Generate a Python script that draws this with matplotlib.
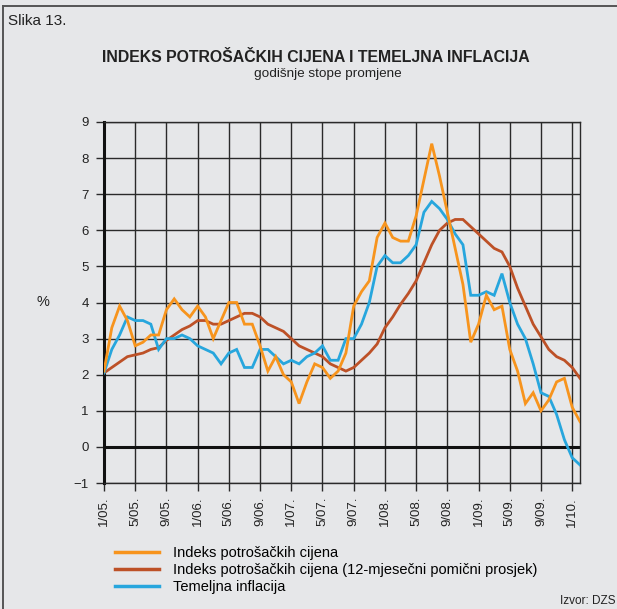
import matplotlib
matplotlib.use("Agg")
import matplotlib.pyplot as plt
from matplotlib.lines import Line2D
import numpy as np

plt.rcParams['font.family'] = ['Liberation Sans', 'DejaVu Sans']

# ---- data (monthly, 1/05 .. 2/10) ----
cpi = [2.1, 3.3, 3.9, 3.5, 2.8, 2.9, 3.1, 3.1, 3.8, 4.1, 3.8, 3.6,
       3.9, 3.6, 3.0, 3.5, 4.0, 4.0, 3.4, 3.4, 2.8, 2.1, 2.5, 2.0,
       1.8, 1.2, 1.8, 2.3, 2.2, 1.9, 2.1, 2.6, 3.9, 4.3, 4.6, 5.8,
       6.2, 5.8, 5.7, 5.7, 6.4, 7.4, 8.4, 7.5, 6.5, 5.5, 4.5, 2.9,
       3.4, 4.2, 3.8, 3.9, 2.7, 2.1, 1.2, 1.5, 1.0, 1.3, 1.8, 1.9,
       1.1, 0.7]
cpi_ma12 = [2.05, 2.2, 2.35, 2.5, 2.55, 2.6, 2.7, 2.75, 2.95, 3.1, 3.25, 3.35,
            3.5, 3.5, 3.4, 3.4, 3.5, 3.6, 3.7, 3.7, 3.6, 3.4, 3.3, 3.2,
            3.0, 2.8, 2.7, 2.6, 2.5, 2.3, 2.2, 2.1, 2.2, 2.4, 2.6, 2.85,
            3.3, 3.6, 3.95, 4.25, 4.6, 5.1, 5.6, 6.0, 6.2, 6.3, 6.3, 6.1,
            5.9, 5.7, 5.5, 5.4, 5.0, 4.4, 3.9, 3.4, 3.05, 2.7, 2.5, 2.4,
            2.2, 1.9]
core = [2.05, 2.7, 3.1, 3.6, 3.5, 3.5, 3.4, 2.7, 3.0, 3.0, 3.1, 3.0,
        2.8, 2.7, 2.6, 2.3, 2.6, 2.7, 2.2, 2.2, 2.7, 2.7, 2.5, 2.3,
        2.4, 2.3, 2.5, 2.6, 2.8, 2.4, 2.4, 3.0, 3.0, 3.4, 4.0, 5.0,
        5.3, 5.1, 5.1, 5.3, 5.6, 6.5, 6.8, 6.6, 6.3, 5.9, 5.6, 4.2,
        4.2, 4.3, 4.2, 4.8, 4.0, 3.4, 3.0, 2.3, 1.5, 1.4, 0.9, 0.2,
        -0.3, -0.5]
tick_labels = ['1/05.', '5/05.', '9/05.', '1/06.', '5/06.', '9/06.', '1/07.', '5/07.',
               '9/07.', '1/08.', '5/08.', '9/08.', '1/09.', '5/09.', '9/09.', '1/10.']
series_names = ['Indeks potrošačkih cijena',
                'Indeks potrošačkih cijena (12-mjesečni pomični prosjek)',
                'Temeljna inflacija']
y_ticks = [-1, 0, 1, 2, 3, 4, 5, 6, 7, 8, 9]

BG = '#e6e7e9'
C_ORANGE = '#f7941d'
C_BROWN = '#bd5127'
C_BLUE = '#27a6dd'

W, H = 617, 609
fig = plt.figure(figsize=(W / 100, H / 100), dpi=100, facecolor=BG)

ax_l, ax_r, ax_t, ax_b = 104, 580, 122, 483
ax = fig.add_axes([ax_l / W, 1 - ax_b / H, (ax_r - ax_l) / W, (ax_b - ax_t) / H])
ax.set_facecolor(BG)

x = np.arange(len(cpi))
ax.set_xlim(0, len(cpi) - 1)
ax.set_ylim(-1, 9)

# grid
tick_pos = np.arange(0, 4 * len(tick_labels), 4)
for v in y_ticks:
    ax.axhline(v, color='#2a2a2a', lw=1.0, zorder=1)
for p in tick_pos:
    ax.axvline(p, color='#2a2a2a', lw=1.0, zorder=1)
ax.axhline(0, color='#111111', lw=2.2, zorder=2)

ax.plot(x, cpi, color=C_ORANGE, lw=2.0, zorder=4, solid_joinstyle='miter')
ax.plot(x, cpi_ma12, color=C_BROWN, lw=2.0, zorder=3, solid_joinstyle='miter')
ax.plot(x, core, color=C_BLUE, lw=2.0, zorder=3, solid_joinstyle='miter')

for s in ['top', 'right', 'bottom']:
    ax.spines[s].set_color('#2a2a2a')
    ax.spines[s].set_linewidth(1.0)
ax.spines['left'].set_color('#111111')
ax.spines['left'].set_linewidth(2.2)

ax.set_yticks(y_ticks)
ax.set_yticklabels(['\u2212' + str(abs(v)) if v < 0 else str(v) for v in y_ticks])
ax.set_xticks(tick_pos)
ax.set_xticklabels(tick_labels, rotation=90)
ax.tick_params(axis='y', length=6, width=1.0, color='#2a2a2a', labelsize=9.5,
               labelcolor='#222222', pad=5)
ax.tick_params(axis='x', length=6, width=1.0, color='#2a2a2a', labelsize=9.5,
               labelcolor='#222222', pad=4, direction='out')

# texts
fig.text(8 / W, 1 - 21 / H, 'Slika 13.', fontsize=11, color='#222222', va='center', ha='left')
fig.text(316 / W, 1 - 57 / H, 'INDEKS POTROŠAČKIH CIJENA I TEMELJNA INFLACIJA',
         fontsize=11.4, fontweight='bold', color='#222222', ha='center', va='center')
fig.text(328 / W, 1 - 74 / H, 'godišnje stope promjene', fontsize=9.7, color='#222222',
         ha='center', va='center')
fig.text(43 / W, 1 - 302 / H, '%', fontsize=10.5, color='#222222', ha='center', va='center')
fig.text(615 / W, 1 - 601 / H, 'Izvor: DZS', fontsize=8.5, color='#222222', ha='right', va='center')

# frame
fig.add_artist(Line2D([3 / W, 3 / W], [0, 1 - 6 / H], transform=fig.transFigure,
                      color='#555555', lw=1.4))
fig.add_artist(Line2D([3 / W, 1], [1 - 6 / H, 1 - 6 / H], transform=fig.transFigure,
                      color='#555555', lw=1.4))

handles = [Line2D([], [], color=C_ORANGE, lw=2.5),
           Line2D([], [], color=C_BROWN, lw=2.5),
           Line2D([], [], color=C_BLUE, lw=2.5)]
fig.legend(handles, series_names, loc='upper left', bbox_to_anchor=(115 / W, 1 - 546 / H),
           frameon=False, fontsize=10.5, handlelength=3.0, handletextpad=0.95,
           labelspacing=0.2, borderpad=0, borderaxespad=0)

fig.savefig('out.png', dpi=100, facecolor=BG)
